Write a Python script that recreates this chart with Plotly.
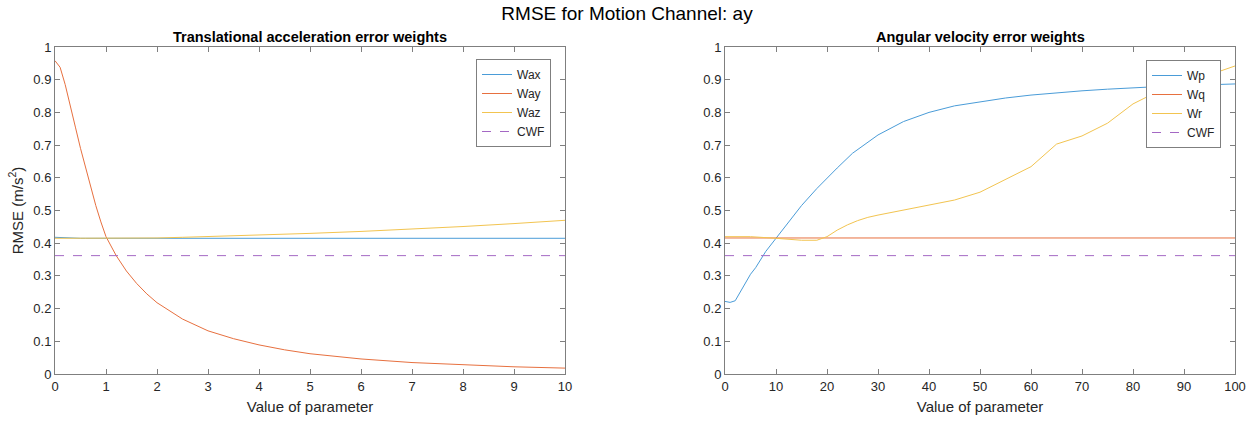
import plotly.graph_objects as go

# ---- data ----
x_left = [0, 0.1, 0.2, 0.3, 0.4, 0.5, 0.6, 0.7, 0.8, 0.9, 1.0, 1.2, 1.4, 1.6, 1.8, 2,
          2.5, 3, 3.5, 4, 4.5, 5, 6, 7, 8, 9, 10]
wax = [0.418, 0.417, 0.416, 0.416, 0.415, 0.415, 0.415, 0.415, 0.415, 0.415, 0.415, 0.415,
       0.415, 0.415, 0.415, 0.415, 0.415, 0.415, 0.415, 0.415, 0.415, 0.415, 0.415, 0.415,
       0.415, 0.415, 0.415]
way = [0.958, 0.938, 0.885, 0.815, 0.755, 0.69, 0.63, 0.57, 0.515, 0.465, 0.42, 0.362,
       0.315, 0.277, 0.245, 0.218, 0.168, 0.132, 0.108, 0.089, 0.074, 0.062, 0.046, 0.035,
       0.028, 0.022, 0.018]
waz = [0.415, 0.415, 0.415, 0.415, 0.415, 0.415, 0.415, 0.415, 0.415, 0.415, 0.415, 0.415,
       0.415, 0.415, 0.416, 0.416, 0.418, 0.420, 0.422, 0.424, 0.427, 0.430, 0.436, 0.443,
       0.451, 0.460, 0.470]

x_right = [0, 1, 2, 3, 4, 5, 6, 8, 10, 12, 15, 18, 20, 22, 25, 30, 35, 40, 45, 50, 55, 60,
           65, 70, 75, 80, 85, 90, 95, 100]
wp = [0.222, 0.219, 0.224, 0.25, 0.28, 0.305, 0.325, 0.375, 0.415, 0.455, 0.515, 0.567,
      0.6, 0.63, 0.675, 0.731, 0.772, 0.8, 0.82, 0.833, 0.844, 0.853, 0.86, 0.866, 0.871,
      0.876, 0.879, 0.882, 0.885, 0.887]
wq = [0.416, 0.416, 0.416, 0.416, 0.416, 0.415, 0.415, 0.415, 0.415, 0.415, 0.415, 0.415,
      0.415, 0.415, 0.415, 0.415, 0.415, 0.415, 0.415, 0.415, 0.415, 0.415, 0.416, 0.416,
      0.416, 0.416, 0.416, 0.416, 0.416, 0.416]
x_wr = [0, 5, 10, 15, 18, 20, 22, 24, 26, 28, 30, 35, 40, 45, 50, 55, 60, 65, 70, 75, 80,
        85, 90, 95, 100]
wr = [0.42, 0.42, 0.415, 0.409, 0.409, 0.42, 0.44, 0.456, 0.469, 0.479, 0.486, 0.501,
      0.517, 0.532, 0.556, 0.595, 0.634, 0.703, 0.728, 0.767, 0.826, 0.865, 0.893, 0.915,
      0.942]
cwf = 0.362

left_names = ["Wax", "Way", "Waz"]
right_names = ["Wp", "Wq", "Wr"]

# ---- style ----
BLUE = "#4A9CD8"
ORANGE = "#E7703F"
YELLOW = "#F2C450"
PURPLE = "#A468C4"
AX = "#7f7f7f"
TXT = "#262626"
FONT = "Liberation Sans, Arial, sans-serif"

fig = go.Figure()

def line(x, y, name, color, xa, ya, legend, dash="solid"):
    fig.add_trace(go.Scatter(x=x, y=y, name=name, mode="lines",
                             line=dict(color=color, width=1, dash=dash),
                             xaxis=xa, yaxis=ya, legend=legend))

line(x_left, wax, left_names[0], BLUE, "x", "y", "legend")
line(x_left, way, left_names[1], ORANGE, "x", "y", "legend")
line(x_left, waz, left_names[2], YELLOW, "x", "y", "legend")
line([0, 10], [cwf, cwf], "CWF", PURPLE, "x", "y", "legend", dash="dash")

line(x_right, wp, right_names[0], BLUE, "x2", "y2", "legend2")
line(x_right, wq, right_names[1], ORANGE, "x2", "y2", "legend2")
line(x_wr, wr, right_names[2], YELLOW, "x2", "y2", "legend2")
line([0, 100], [cwf, cwf], "CWF", PURPLE, "x2", "y2", "legend2", dash="dash")

W, H = 1254, 421
ydom = [(H - 374) / H, (H - 47) / H]
common_axis = dict(showline=True, linecolor=AX, linewidth=1, mirror="ticks",
                   ticks="inside", ticklen=5, tickcolor=AX, showgrid=False,
                   zeroline=False, automargin=False,
                   tickfont=dict(size=13, color=TXT, family=FONT))

fig.update_layout(
    width=W, height=H,
    margin=dict(l=0, r=0, t=0, b=0),
    paper_bgcolor="white", plot_bgcolor="white",
    font=dict(family=FONT, color=TXT),
    title=dict(text="RMSE for Motion Channel: ay", x=0.5, xanchor="center",
               y=1 - 13 / H, yanchor="middle", font=dict(size=19, color="#000000")),
    xaxis=dict(domain=[55 / W, 565 / W], range=[0, 10], dtick=1, anchor="y",
               title=dict(text="Value of parameter", font=dict(size=15, color=TXT), standoff=8),
               **common_axis),
    yaxis=dict(domain=ydom, range=[0, 1], dtick=0.1, anchor="x",
               title=dict(text="RMSE (m/s<sup>2</sup>)", font=dict(size=15, color=TXT), standoff=6),
               **common_axis),
    xaxis2=dict(domain=[725 / W, 1235 / W], range=[0, 100], dtick=10, anchor="y2",
                title=dict(text="Value of parameter", font=dict(size=15, color=TXT), standoff=8),
                **common_axis),
    yaxis2=dict(domain=ydom, range=[0, 1], dtick=0.1, anchor="x2", **common_axis),
    legend=dict(x=551 / W, xanchor="right", y=1 - 59 / H, yanchor="top",
                bgcolor="white", bordercolor=AX, borderwidth=1,
                font=dict(size=12, color=TXT, family=FONT), tracegroupgap=0,
                itemwidth=30),
    legend2=dict(x=1221 / W, xanchor="right", y=1 - 60 / H, yanchor="top",
                 bgcolor="white", bordercolor=AX, borderwidth=1,
                 font=dict(size=12, color=TXT, family=FONT), tracegroupgap=0,
                 itemwidth=30),
    annotations=[
        dict(text="<b>Translational acceleration error weights</b>", x=(55 + 565) / 2 / W,
             y=1 - 37 / H, xref="paper", yref="paper", showarrow=False,
             xanchor="center", yanchor="middle", font=dict(size=14.5, color="#000000")),
        dict(text="<b>Angular velocity error weights</b>", x=(725 + 1235) / 2 / W,
             y=1 - 37 / H, xref="paper", yref="paper", showarrow=False,
             xanchor="center", yanchor="middle", font=dict(size=14.5, color="#000000")),
    ],
)

fig.write_html("out.html")
